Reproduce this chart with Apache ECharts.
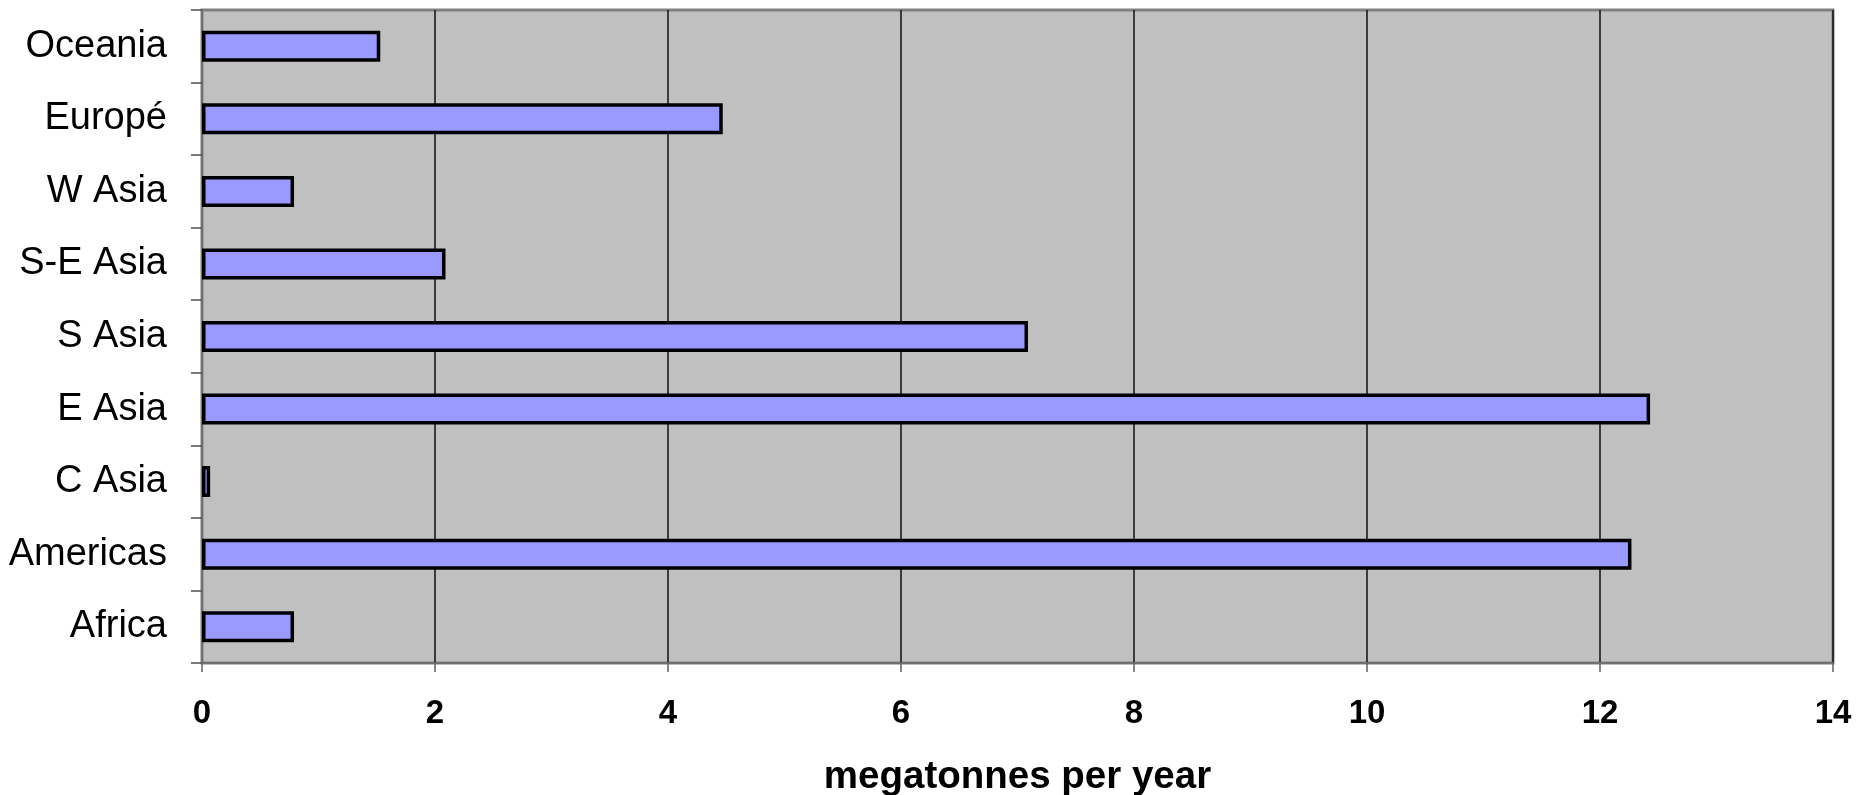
<!DOCTYPE html>
<html>
<head>
<meta charset="utf-8">
<script src="https://cdn.jsdelivr.net/npm/echarts@6/dist/echarts.min.js"></script>
<style>
  html, body { margin: 0; padding: 0; background: #ffffff; }
  #chart { width: 1866px; height: 795px; }
</style>
</head>
<body>
<div id="chart"></div>
<script>
// Regions listed bottom-to-top (category axis grows upward)
const regions = ['Africa', 'Americas', 'C Asia', 'E Asia', 'S Asia', 'S-E Asia', 'W Asia', 'Europé', 'Oceania'];
// Annual amount per region, megatonnes per year
const amounts = [0.79, 12.27, 0.07, 12.43, 7.09, 2.09, 0.79, 4.47, 1.53];
// Value axis range and step
const xMin = 0;
const xMax = 14;
const xStep = 2;
const xTitle = 'megatonnes per year';

const FONT = '"Liberation Sans", Arial, Helvetica, sans-serif';

const chart = echarts.init(document.getElementById('chart'));
chart.setOption({
  animation: false,
  backgroundColor: '#ffffff',
  grid: {
    left: 202,
    right: 33,
    top: 10,
    bottom: 132,
    outerBoundsMode: 'none',
    containLabel: false,
    show: true,
    backgroundColor: '#C0C0C0',
    borderColor: '#808080',
    borderWidth: 3
  },
  xAxis: {
    type: 'value',
    min: xMin,
    max: xMax,
    interval: xStep,
    name: xTitle,
    nameLocation: 'middle',
    nameGap: 95,
    nameTextStyle: { fontFamily: FONT, fontSize: 38.5, fontWeight: 'bold', color: '#000' },
    axisLine: { show: true, lineStyle: { color: '#707070', width: 2 } },
    axisTick: { show: true, inside: false, length: 9, lineStyle: { color: '#606060', width: 1.5 } },
    axisLabel: { margin: 34, fontFamily: FONT, fontSize: 33, fontWeight: 'bold', color: '#000' },
    splitLine: { show: true, lineStyle: { color: '#111111', width: 1.5 } }
  },
  yAxis: {
    type: 'category',
    data: regions,
    axisLine: { show: true, lineStyle: { color: '#707070', width: 2 } },
    axisTick: { show: true, inside: false, length: 11, lineStyle: { color: '#505050', width: 1.5 } },
    axisLabel: { margin: 35, fontFamily: FONT, fontSize: 38, color: '#000' },
    splitLine: { show: false }
  },
  series: [{
    type: 'bar',
    data: amounts,
    barWidth: 31,
    itemStyle: { color: '#9999FF', borderColor: '#000000', borderWidth: 3.5 }
  }]
});
</script>
</body>
</html>
